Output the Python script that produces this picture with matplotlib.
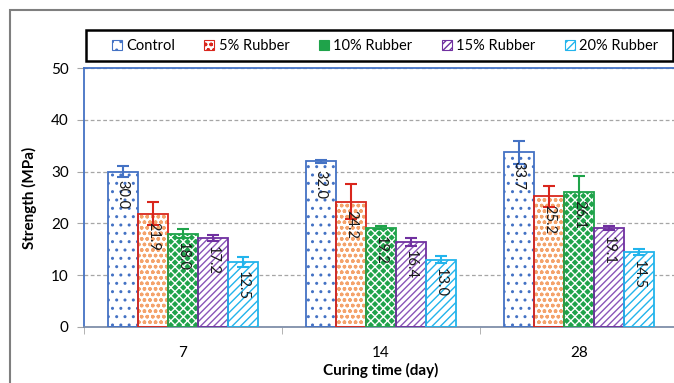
import numpy as np
import matplotlib.pyplot as plt
from matplotlib.patches import Rectangle, Patch

plt.rcParams['font.family'] = ['Lato', 'DejaVu Sans']
plt.rcParams['hatch.linewidth'] = 1.0

# ----- Data -----
days = ['7', '14', '28']
series = ['Control', '5% Rubber', '10% Rubber', '15% Rubber', '20% Rubber']
strength = [
    [30.0, 32.0, 33.7],   # Control
    [21.9, 24.2, 25.2],   # 5% Rubber
    [18.0, 19.2, 26.1],   # 10% Rubber
    [17.2, 16.4, 19.1],   # 15% Rubber
    [12.5, 13.0, 14.5],   # 20% Rubber
]
errors = [
    [1.0, 0.3, 2.2],
    [2.2, 3.4, 2.0],
    [0.9, 0.3, 3.0],
    [0.6, 0.8, 0.4],
    [1.0, 0.7, 0.6],
]

# ----- Styles -----
face = ['white', 'white', '#1fa34a', 'white', 'white']
hatch_col = ['#4472c4', '#f4a36b', 'white', '#8a55b8', '#22b4ec']
hatches = ['..', 'ooo', 'xxxx', '/////', '////']
edge = ['#4472c4', '#d9261c', '#1fa34a', '#7030a0', '#22b4ec']

W, H = 674, 383
fig = plt.figure(figsize=(W / 100, H / 100), dpi=100)
ax = fig.add_axes([84 / W, 1 - 327 / H, 594 / W, 259 / H])

x = np.arange(len(days))
bw = 0.152
for i, name in enumerate(series):
    pos = x + (i - 2) * bw
    # hatch layer
    ax.bar(pos, strength[i], bw, color=face[i], edgecolor=hatch_col[i],
           hatch=hatches[i], linewidth=0, zorder=2)
    # outline layer
    ax.bar(pos, strength[i], bw, fill=False, edgecolor=edge[i],
           linewidth=1.3, zorder=3)
    ax.errorbar(pos, strength[i], yerr=errors[i], fmt='none', ecolor=edge[i],
                elinewidth=1.5, capsize=4, capthick=1.5, zorder=4)
    for p, v in zip(pos, strength[i]):
        ax.annotate(f'{v:.1f}', (p, v), xytext=(0, -6), textcoords='offset points',
                    rotation=270, ha='center', va='top', fontsize=10.5,
                    color='#1a1a1a', zorder=5)

ax.set_xlim(-0.5, 2.5)
ax.set_ylim(0, 50)
ax.set_yticks(range(0, 51, 10))
ax.set_xticks(x)
ax.set_xticklabels(days)
ax.set_xticks([-0.5, 0.5, 1.5, 2.5], minor=True)
ax.tick_params(axis='x', which='major', length=0, pad=14, labelsize=11)
ax.tick_params(axis='x', which='minor', length=5, color='#a6a6a6')
ax.tick_params(axis='y', length=5, color='#a6a6a6', labelsize=11, pad=6)
ax.yaxis.grid(True, linestyle=(0, (3, 2)), color='#a6a6a6', linewidth=0.9, zorder=0)
ax.set_axisbelow(True)
for s in ['left', 'top', 'right']:
    ax.spines[s].set_color('#4472c4')
    ax.spines[s].set_linewidth(1.3)
ax.spines['bottom'].set_color('#7f8fa9')
ax.spines['bottom'].set_linewidth(1.3)

ax.set_ylabel('Strength (MPa)', fontsize=11, fontweight='bold', labelpad=10)
ax.set_xlabel('Curing time (day)', fontsize=11, fontweight='bold', labelpad=2)

# outer chart frame and legend box
fig.patches.append(Rectangle((10 / W, -0.1), 1.2, 1 - 10 / H + 0.1, transform=fig.transFigure,
                             fill=False, edgecolor='#7f7f7f', linewidth=1.5))
fig.patches.append(Rectangle((86 / W, 1 - 61 / H), (673 - 86) / W, 31 / H,
                             transform=fig.transFigure, fill=False,
                             edgecolor='black', linewidth=1.8))

handles = [Patch(facecolor=face[i], edgecolor=edge[i], hatch=hatches[i], linewidth=0.8)
           for i in range(len(series))]
fig.legend(handles, series, loc='center', bbox_to_anchor=(385 / W, 1 - 46 / H),
           ncol=5, frameon=False, fontsize=10.5, handlelength=0.7,
           handleheight=0.7, handletextpad=0.3, columnspacing=2.0)

fig.savefig('out.png', dpi=100)
